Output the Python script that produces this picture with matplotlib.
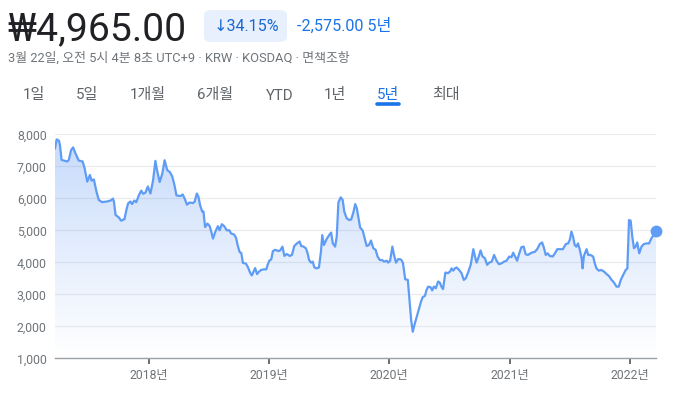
import numpy as np
import pandas as pd
import matplotlib
matplotlib.use("Agg")
import matplotlib.pyplot as plt
import matplotlib.dates as mdates
from matplotlib.patches import Polygon, FancyBboxPatch

plt.rcParams['font.family'] = ['Roboto', 'Noto Sans CJK KR', 'DejaVu Sans']

# ---------------- data ----------------
price_text = "₩4,965.00"
change_pct_text = "↓34.15%"
change_abs_text = "-2,575.00 5년"
info_text = "3월 22일, 오전 5시 4분 8초 UTC+9 · KRW · KOSDAQ · 면책조항"
tabs = ["1일", "5일", "1개월", "6개월", "YTD", "1년", "5년", "최대"]
active_tab = "5년"

dates = [
    "2017-03-22", "2017-03-27", "2017-04-03", "2017-04-06", "2017-04-11", "2017-04-18", "2017-04-28",
    "2017-05-03", "2017-05-10", "2017-05-16", "2017-05-23", "2017-06-02", "2017-06-14", "2017-06-20",
    "2017-06-28", "2017-07-06", "2017-07-11", "2017-07-18", "2017-07-26", "2017-08-02", "2017-08-12",
    "2017-08-27", "2017-09-07", "2017-09-14", "2017-09-17", "2017-09-22", "2017-10-02", "2017-10-09",
    "2017-10-19", "2017-10-25", "2017-10-30", "2017-11-06", "2017-11-11", "2017-11-18", "2017-11-24",
    "2017-12-02", "2017-12-09", "2017-12-15", "2017-12-22", "2017-12-29",
    "2018-01-06", "2018-01-14", "2018-01-21", "2018-01-26", "2018-02-03", "2018-02-11", "2018-02-18",
    "2018-02-26", "2018-03-06", "2018-03-13", "2018-03-20", "2018-03-26", "2018-04-07", "2018-04-14",
    "2018-04-20", "2018-04-27", "2018-05-05", "2018-05-15", "2018-05-20", "2018-05-27", "2018-06-01",
    "2018-06-06", "2018-06-12", "2018-06-16", "2018-06-21", "2018-06-28", "2018-07-05", "2018-07-10",
    "2018-07-15", "2018-07-22", "2018-07-30", "2018-08-04", "2018-08-11", "2018-08-18", "2018-08-26",
    "2018-09-03", "2018-09-08", "2018-09-17", "2018-09-23", "2018-09-28", "2018-10-04", "2018-10-09",
    "2018-10-14", "2018-10-23", "2018-10-29", "2018-11-05", "2018-11-10", "2018-11-15", "2018-11-20",
    "2018-11-26", "2018-12-01", "2018-12-08", "2018-12-16", "2018-12-24", "2018-12-28",
    "2019-01-02", "2019-01-08", "2019-01-13", "2019-01-20", "2019-01-30", "2019-02-04", "2019-02-11",
    "2019-02-17", "2019-02-24", "2019-03-05", "2019-03-12", "2019-03-19", "2019-03-27", "2019-04-04",
    "2019-04-09", "2019-04-16", "2019-04-23", "2019-04-28", "2019-05-03", "2019-05-09", "2019-05-14",
    "2019-05-19", "2019-05-26", "2019-06-02", "2019-06-08", "2019-06-12", "2019-06-17", "2019-06-25",
    "2019-07-03", "2019-07-09", "2019-07-14", "2019-07-21", "2019-07-26", "2019-07-31", "2019-08-07",
    "2019-08-13", "2019-08-18", "2019-08-25", "2019-09-02", "2019-09-08", "2019-09-15", "2019-09-20",
    "2019-09-25", "2019-09-30", "2019-10-05", "2019-10-13", "2019-10-20", "2019-10-25", "2019-11-01",
    "2019-11-07", "2019-11-14", "2019-11-21", "2019-11-27", "2019-12-04", "2019-12-11", "2019-12-17",
    "2019-12-25", "2019-12-29",
    "2020-01-04", "2020-01-11", "2020-01-16", "2020-01-22", "2020-01-29", "2020-02-06", "2020-02-12",
    "2020-02-19", "2020-02-27", "2020-03-03", "2020-03-08", "2020-03-13", "2020-03-18", "2020-03-25",
    "2020-04-01", "2020-04-07", "2020-04-12", "2020-04-19", "2020-04-24", "2020-04-29", "2020-05-06",
    "2020-05-11", "2020-05-16", "2020-05-22", "2020-05-29", "2020-06-03", "2020-06-08", "2020-06-13",
    "2020-06-20", "2020-06-28", "2020-07-04", "2020-07-09", "2020-07-14", "2020-07-19", "2020-07-24",
    "2020-08-01", "2020-08-08", "2020-08-15", "2020-08-21", "2020-08-28", "2020-09-05", "2020-09-13",
    "2020-09-18", "2020-09-23", "2020-09-28", "2020-10-05", "2020-10-11", "2020-10-18", "2020-10-25",
    "2020-10-31", "2020-11-08", "2020-11-15", "2020-11-23", "2020-11-30", "2020-12-08", "2020-12-15",
    "2020-12-23", "2020-12-31",
    "2021-01-07", "2021-01-12", "2021-01-17", "2021-01-24", "2021-01-30", "2021-02-06", "2021-02-13",
    "2021-02-19", "2021-02-26", "2021-03-09", "2021-03-19", "2021-03-26", "2021-04-03", "2021-04-10",
    "2021-04-15", "2021-04-21", "2021-04-27", "2021-05-03", "2021-05-12", "2021-05-19", "2021-05-26",
    "2021-06-02", "2021-06-12", "2021-06-21", "2021-06-28", "2021-07-03", "2021-07-08", "2021-07-13",
    "2021-07-18", "2021-07-23", "2021-07-28", "2021-08-02", "2021-08-08", "2021-08-11", "2021-08-15",
    "2021-08-23", "2021-08-28", "2021-09-04", "2021-09-12", "2021-09-17", "2021-09-22", "2021-09-29",
    "2021-10-07", "2021-10-15", "2021-10-22", "2021-10-30", "2021-11-07", "2021-11-14", "2021-11-22",
    "2021-11-29", "2021-12-05", "2021-12-12", "2021-12-20", "2021-12-25", "2021-12-30",
    "2022-01-04", "2022-01-09", "2022-01-14", "2022-01-19", "2022-01-24", "2022-01-30", "2022-02-06",
    "2022-02-13", "2022-02-21", "2022-03-01", "2022-03-08", "2022-03-22",
]
prices = [
    7560, 7840, 7800, 7670, 7200, 7180, 7150,
    7200, 7510, 7590, 7410, 7180, 7150, 6940,
    6520, 6730, 6550, 6590, 6210, 5950, 5880,
    5900, 5930, 5990, 5900, 5480, 5400, 5300,
    5350, 5640, 5840, 5900, 5820, 5930, 5880,
    6100, 6240, 6140, 6180, 6370,
    6150, 6560, 7170, 6880, 6510, 6770, 7190,
    6880, 6820, 6690, 6410, 6090, 6070, 6120,
    5990, 5800, 5870, 5850, 5890, 6150, 6040,
    5780, 5590, 5590, 5100, 5210, 5130, 4950,
    4740, 4950, 5130, 5000, 5190, 5130, 5000,
    5000, 4900, 4870, 4770, 4530, 4320, 4290,
    3980, 3960, 3850, 3670, 3590, 3700, 3820,
    3630, 3700, 3760, 3780, 3780, 3920,
    4050, 4090, 4350, 4390, 4350, 4370, 4490,
    4200, 4260, 4200, 4230, 4510, 4590, 4650,
    4510, 4490, 4440, 4300, 4070, 3990, 4020,
    3840, 3810, 3840, 4330, 4850, 4540, 4720,
    4850, 4930, 4590, 4490, 4800, 5870, 6030,
    5950, 5580, 5380, 5320, 5340, 5580, 5820,
    5690, 5380, 5090, 4990, 4700, 4510, 4540,
    4680, 4440, 4390, 4180, 4070, 4070, 4020,
    4050, 3990,
    4040, 4490, 4230, 3990, 4100, 4090, 3990,
    3470, 3450, 2820, 2200, 1830, 2040, 2300,
    2560, 2770, 2910, 2950, 3140, 3240, 3220,
    3120, 3240, 3190, 3400, 3370, 3240, 3160,
    3680, 3660, 3710, 3810, 3740, 3810, 3840,
    3760, 3660, 3450, 3500, 3680, 3920, 4410,
    4180, 3990, 4130, 4370, 4180, 4130, 3920,
    3990, 4020, 4230, 4040, 3940, 3970, 4020,
    4050, 4180,
    4160, 4300, 4200, 4050, 4260, 4470, 4490,
    4250, 4230, 4300, 4330, 4410, 4570, 4620,
    4470, 4230, 4280, 4200, 4180, 4280, 4410,
    4410, 4410, 4570, 4590, 4700, 4960, 4800,
    4540, 4490, 4590, 4410, 4130, 3810, 4200,
    4410, 4230, 4230, 4180, 3970, 3810, 3740,
    3760, 3710, 3640, 3570, 3450, 3370, 3240,
    3240, 3450, 3600, 3760, 3810, 5320,
    5300, 4800, 4440, 4490, 4620, 4280, 4490,
    4570, 4590, 4590, 4750, 4965,
]
y_ticks = [1000, 2000, 3000, 4000, 5000, 6000, 7000, 8000]
x_tick_dates = ["2018-01-01", "2019-01-01", "2020-01-01", "2021-01-01", "2022-01-01"]
x_tick_labels = ["2018년", "2019년", "2020년", "2021년", "2022년"]
x_start, x_end = "2017-03-22", "2022-03-22"

# ---------------- figure ----------------
W, H = 675, 396
fig = plt.figure(figsize=(W / 100, H / 100), dpi=100)
fig.patch.set_facecolor("white")

def fx(px):
    return px / W

def fy(py):
    return 1 - py / H

line_color = "#5f9cf5"
blue = "#1a73e8"
gray = "#70757a"

# header
fig.text(fx(7), fy(40), price_text, fontsize=28.2, color="#202124", va="baseline", ha="left")
badge = FancyBboxPatch((fx(204), fy(42)), fx(287) - fx(204), fy(10) - fy(42),
                       boxstyle="round,pad=0,rounding_size=0.012",
                       transform=fig.transFigure, facecolor="#e8f0fe", edgecolor="none")
fig.patches.append(badge)
fig.text(fx(246), fy(31), change_pct_text, fontsize=11.6, color="#1967d2",
         va="baseline", ha="center", family=['Roboto', 'DejaVu Sans'])
fig.text(fx(297), fy(31), change_abs_text, fontsize=11.6, color=blue, va="baseline", ha="left")
fig.text(fx(8), fy(62), info_text, fontsize=9.3, color=gray, va="baseline", ha="left",
         family=['Roboto', 'Noto Sans CJK KR'])

tab_centers = [34, 87, 147.5, 215, 279.5, 334.5, 388, 446]
for lab, cx in zip(tabs, tab_centers):
    col = blue if lab == active_tab else "#5f6368"
    fig.text(fx(cx), fy(99.5), lab, fontsize=10.8, color=col, va="baseline", ha="center")
    if lab == active_tab:
        fig.add_artist(plt.Line2D([fx(cx - 11), fx(cx + 11)], [fy(104), fy(104)],
                                  transform=fig.transFigure, color=blue, lw=2.6,
                                  solid_capstyle="round"))

# chart axes
ax_left, ax_right, ax_top, ax_bottom = 55, 656, 134.3, 358.3
ax = fig.add_axes([fx(ax_left), fy(ax_bottom), fx(ax_right) - fx(ax_left), fy(ax_top) - fy(ax_bottom)])
ax.set_facecolor("none")

d = pd.to_datetime(dates)
xs = mdates.date2num(d)
ys = np.array(prices, dtype=float)
x0 = mdates.date2num(pd.Timestamp(x_start))
x1 = mdates.date2num(pd.Timestamp(x_end))
ymin, ymax = y_ticks[0], y_ticks[-1]

# gradient fill under the line
n = 256
alpha = np.linspace(0, 0.30, n)
grad = np.zeros((n, 1, 4))
grad[..., 0] = 66 / 255
grad[..., 1] = 133 / 255
grad[..., 2] = 244 / 255
grad[:, 0, 3] = alpha
im = ax.imshow(grad, extent=[x0, x1, ymin, ymax], origin="lower", aspect="auto", zorder=1)
poly_xy = np.column_stack([np.r_[xs[0], xs, xs[-1]], np.r_[ymin, ys, ymin]])
clip = Polygon(poly_xy, closed=True, transform=ax.transData, facecolor="none", edgecolor="none")
ax.add_patch(clip)
im.set_clip_path(clip)

ax.plot(xs, ys, color=line_color, lw=1.6, zorder=3, solid_joinstyle="round")
ax.plot([xs[-1]], [ys[-1]], "o", color=line_color, ms=7.5, zorder=4, clip_on=False)

ax.set_xlim(x0, x1)
ax.set_ylim(ymin, ymax)

ax.set_yticks(y_ticks)
ax.set_yticklabels([f"{v:,}" for v in y_ticks])
ax.yaxis.grid(True, color="#ebebeb", lw=0.8)
ax.set_axisbelow(True)
ax.tick_params(axis="y", length=0, pad=6, labelsize=8.8, labelcolor=gray)

ax.set_xticks(mdates.date2num(pd.to_datetime(x_tick_dates)))
ax.set_xticklabels(x_tick_labels)
ax.tick_params(axis="x", length=4, width=1.3, color="#5f6368", pad=4, labelsize=8.8, labelcolor=gray)

for s in ["top", "right", "left"]:
    ax.spines[s].set_visible(False)
ax.spines["bottom"].set_color("#9aa0a6")
ax.spines["bottom"].set_linewidth(1.0)

fig.savefig("out.png", dpi=100, facecolor="white")
